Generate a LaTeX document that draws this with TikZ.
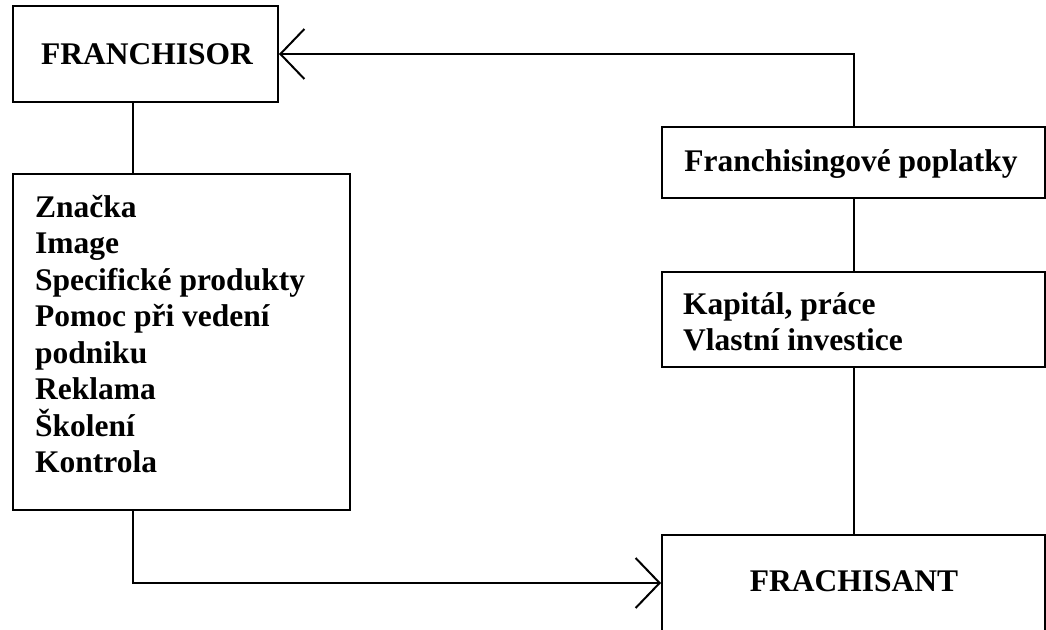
\documentclass[tikz,border=0pt]{standalone}
\usepackage{fontspec}
\setmainfont{Liberation Serif}
\usetikzlibrary{arrows.meta}

\tikzset{
  box/.style={draw, line width=2pt, rectangle, inner sep=0pt},
  label text/.style={font=\bfseries\fontsize{31.5}{36.5}\selectfont, inner sep=0pt},
  link/.style={line width=2pt},
  flow/.style={line width=2pt, -{Straight Barb[length=24pt, width=50pt]}},
}

\begin{document}
\begin{tikzpicture}[x=1pt, y=-1pt]
  \useasboundingbox (0,0) rectangle (1046,629);

  % left column: franchisor and what it provides
  \node[box, minimum width=265pt, minimum height=96pt] (franchisor) at (145.5,54) {};
  \node[label text] (franchisortext) at (147,54) {FRANCHISOR};

  \node[box, minimum width=337pt, minimum height=336pt] (benefits) at (181.5,342) {};
  \node[label text, anchor=north west, align=left] (benefitstext) at (35,195)
    {Značka\\Image\\Specifické produkty\\Pomoc při vedení\\podniku\\Reklama\\Školení\\Kontrola};

  % right column: franchisee and what it contributes
  \node[box, minimum width=383pt, minimum height=71pt] (fees) at (853.5,162.5) {};
  \node[label text] (feestext) at (851,164) {Franchisingové poplatky};

  \node[box, minimum width=383pt, minimum height=95pt] (capital) at (853.5,319.5) {};
  \node[label text, anchor=north west, align=left] (capitaltext) at (683,292)
    {Kapitál, práce\\Vlastní investice};

  \node[box, minimum width=383pt, minimum height=96pt] (frachisant) at (853.5,583) {};
  \node[label text] (frachisanttext) at (854,581) {FRACHISANT};

  % connectors
  \coordinate (leftrail) at (133,0);
  \draw[link] (leftrail |- franchisor.south) -- (leftrail |- benefits.north);
  \draw[flow] (leftrail |- benefits.south) |- (frachisant.west);

  \draw[link] (frachisant.north) -- (capital.south);
  \draw[link] (capital.north) -- (fees.south);
  \draw[flow] (fees.north) |- (franchisor.east);
\end{tikzpicture}
\end{document}
